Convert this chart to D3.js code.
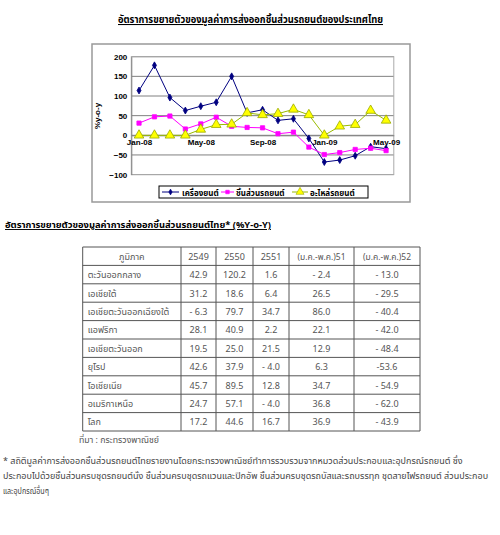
<!DOCTYPE html>
<html>
<head>
<meta charset="utf-8">
<script src="https://cdn.jsdelivr.net/npm/d3@7"></script>
<style>
  body { margin: 0; background: #fff; }
  svg { display: block; }
  .th { font-family: Tahoma, "Noto Sans Thai", "Noto Sans", "DejaVu Sans", sans-serif; }
  .ax { font-family: Arial, "Liberation Sans", sans-serif; }
</style>
</head>
<body>
<svg id="chart" width="500" height="535"></svg>
<script>
// ---------- data ----------
const months = ["Jan-08","Feb-08","Mar-08","Apr-08","May-08","Jun-08","Jul-08","Aug-08","Sep-08","Oct-08","Nov-08","Dec-08","Jan-09","Feb-09","Mar-09","Apr-09","May-09"];
const monthTicks = ["Jan-08","May-08","Sep-08","Jan-09","May-09"];
const engine = [114,178,96,63,74,84,150,57,65,38,42,-8,-68,-63,-52,-29,-34];
const parts  = [31,47,49,16,29,46,23,20,19,4,8,-30,-49,-44,-36,-33,-39];
const spares = [0,0,0,0,15,27,28,57,52,55,66,52,0,23,27,63,38];
const seriesNames = ["เครื่องยนต์","ชิ้นส่วนรถยนต์","อะไหล่รถยนต์"];
const yTicks = [-100,-50,0,50,100,150,200];

const tableHeader = ["ภูมิภาค","2549","2550","2551","(ม.ค.-พ.ค.)51","(ม.ค.-พ.ค.)52"];
const regions = ["ตะวันออกกลาง","เอเชียใต้","เอเชียตะวันออกเฉียงใต้","แอฟริกา","เอเชียตะวันออก","ยุโรป","โอเชียเนีย","อเมริกาเหนือ","โลก"];
const col2549 = ["42.9","31.2","- 6.3","28.1","19.5","42.6","45.7","24.7","17.2"];
const col2550 = ["120.2","18.6","79.7","40.9","25.0","37.9","89.5","57.1","44.6"];
const col2551 = ["1.6","6.4","34.7","2.2","21.5","- 4.0","12.8","- 4.0","16.7"];
const colJan51 = ["- 2.4","26.5","86.0","22.1","12.9","6.3","34.7","36.8","36.9"];
const colJan52 = ["- 13.0","- 29.5","- 40.4","- 42.0","- 48.4","-53.6","- 54.9","- 62.0","- 43.9"];

const title1 = "อัตราการขยายตัวของมูลค่าการส่งออกชิ้นส่วนรถยนต์ของประเทศไทย";
const title2 = "อัตราการขยายตัวของมูลค่าการส่งออกชิ้นส่วนรถยนต์ไทย* (%Y-o-Y)";
const sourceText = "ที่มา : กระทรวงพาณิชย์";
const footLines = [
  "* สถิติมูลค่าการส่งออกชิ้นส่วนรถยนต์ไทยรายงานโดยกระทรวงพาณิชย์ทำการรวบรวมจากหมวดส่วนประกอบและอุปกรณ์รถยนต์ ซึ่ง",
  "ประกอบไปด้วยชิ้นส่วนครบชุดรถยนต์นั่ง ชิ้นส่วนครบชุดรถแวนและปิกอัพ ชิ้นส่วนครบชุดรถบัสและรถบรรทุก ชุดสายไฟรถยนต์ ส่วนประกอบ",
  "และอุปกรณ์อื่นๆ"
];

// ---------- drawing ----------
const svg = d3.select("#chart");

// fit a text element to a maximum width by shrinking glyphs horizontally
function fit(sel, w) {
  const node = sel.node();
  const len = node.getComputedTextLength();
  if (len > w) sel.attr("textLength", w).attr("lengthAdjust", "spacingAndGlyphs");
  return sel;
}

// Title 1
fit(svg.append("text").attr("class","th").attr("x",118).attr("y",23)
  .attr("font-size",10.5).attr("font-weight","bold")
  .attr("text-decoration","underline").text(title1), 265);

// Chart frame
svg.append("rect").attr("x",92).attr("y",44).attr("width",318).attr("height",158)
  .attr("fill","#fff").attr("stroke","#999").attr("stroke-width",1.5);

const x = d3.scalePoint().domain(months).range([131.3,393.8]).padding(0.5);
const y = d3.scaleLinear().domain([-100,200]).range([174.6,56.7]);
const left = 131.3, right = 393.8;

// gridlines
svg.append("g").selectAll("line").data(yTicks).join("line")
  .attr("x1",left).attr("x2",right).attr("y1",d=>y(d)).attr("y2",d=>y(d))
  .attr("stroke","#808080").attr("stroke-width",1);
// plot border
svg.append("rect").attr("x",left).attr("y",y(200)).attr("width",right-left).attr("height",y(-100)-y(200))
  .attr("fill","none").attr("stroke","#aaa").attr("stroke-width",1);

// y axis
const yAxis = d3.axisLeft(y).tickValues(yTicks).tickSize(0).tickPadding(4);
const gy = svg.append("g").attr("transform",`translate(${left},0)`).call(yAxis);
gy.select(".domain").attr("stroke","#808080");
gy.selectAll("text").attr("class","ax").attr("font-size",8).attr("font-weight","bold").attr("fill","#000");

// x axis at zero
const xAxis = d3.axisBottom(x).tickValues(monthTicks).tickSize(0).tickPadding(4);
const gx = svg.append("g").attr("transform",`translate(0,${y(0)})`).call(xAxis);
gx.select(".domain").attr("stroke","#808080");
gx.selectAll("text").attr("class","ax").attr("font-size",8).attr("font-weight","bold").attr("fill","#000");

// y label
svg.append("text").attr("class","ax").attr("transform","translate(100,116) rotate(-90)")
  .attr("text-anchor","middle").attr("font-size",8).attr("font-weight","bold").text("%y-o-y");

const series = [
  {name: seriesNames[0], values: engine, line: "#000080", fill: "#000080", marker: "diamond", size: 14},
  {name: seriesNames[1], values: parts, line: "#FF00FF", fill: "#FF00FF", marker: "square", size: 18},
  {name: seriesNames[2], values: spares, line: "#99BB00", fill: "#FFFF00", marker: "triangle", size: 40},
];
const symType = {diamond: d3.symbolDiamond, square: d3.symbolSquare, triangle: d3.symbolTriangle};
const line = d3.line().x((d,i)=>x(months[i])).y(d=>y(d));

series.forEach(s => {
  svg.append("path").datum(s.values).attr("d",line).attr("fill","none")
    .attr("stroke",s.line).attr("stroke-width",1);
});
series.forEach(s => {
  svg.append("g").selectAll("path").data(s.values).join("path")
    .attr("transform",(d,i)=>`translate(${x(months[i])},${y(d)})`)
    .attr("d",d3.symbol().type(symType[s.marker]).size(s.size))
    .attr("fill",s.fill).attr("stroke",s.marker==="triangle" ? "#99AA00" : s.fill).attr("stroke-width",0.8);
});

// legend
svg.append("rect").attr("x",159).attr("y",186).attr("width",209).attr("height",12)
  .attr("fill","#fff").attr("stroke","#000").attr("stroke-width",1);
const legX = [[162,179,182,37],[221,234,236,53],[292,308,310,54]];
series.forEach((s,k) => {
  const [a,b,t,w] = legX[k];
  svg.append("line").attr("x1",a).attr("x2",b).attr("y1",192).attr("y2",192).attr("stroke",s.line);
  svg.append("path").attr("transform",`translate(${(a+b)/2},192)`)
    .attr("d",d3.symbol().type(symType[s.marker]).size(s.size*0.7))
    .attr("fill",s.fill).attr("stroke",s.marker==="triangle" ? "#99AA00" : s.fill).attr("stroke-width",0.6);
  fit(svg.append("text").attr("class","th").attr("x",t).attr("y",195.5).attr("font-size",8).attr("font-weight","bold")
    .text(s.name), w);
});

// Title 2
fit(svg.append("text").attr("class","th").attr("x",5).attr("y",228)
  .attr("font-size",9.5).attr("font-weight","bold")
  .attr("text-decoration","underline").text(title2), 266);

// ---------- table ----------
const colEdges = [82.7,181,216,253,289,354,420];
const rowTop = 247, rowH = 18.4;
const columns = [regions,col2549,col2550,col2551,colJan51,colJan52];
const nRows = regions.length + 1;
const tbl = svg.append("g").attr("class","th");
tbl.selectAll("line.h").data(d3.range(nRows+1)).join("line").attr("class","h")
  .attr("x1",colEdges[0]).attr("x2",colEdges[colEdges.length-1])
  .attr("y1",d=>rowTop+d*rowH).attr("y2",d=>rowTop+d*rowH)
  .attr("stroke","#555").attr("stroke-width",1);
tbl.selectAll("line.v").data(colEdges).join("line").attr("class","v")
  .attr("x1",d=>d).attr("x2",d=>d).attr("y1",rowTop).attr("y2",rowTop+nRows*rowH)
  .attr("stroke","#555").attr("stroke-width",1);
tableHeader.forEach((h,c) => {
  fit(tbl.append("text").attr("x",(colEdges[c]+colEdges[c+1])/2).attr("y",rowTop+rowH/2+3.5)
    .attr("text-anchor","middle").attr("font-size",9).attr("fill","#555").text(h), c>=4 ? 48 : 60);
});
columns.forEach((col,c) => {
  col.forEach((v,r) => {
    const isFirst = c===0;
    const t = tbl.append("text")
      .attr("x", isFirst ? colEdges[0]+5 : (colEdges[c]+colEdges[c+1])/2)
      .attr("y", rowTop+(r+1)*rowH+rowH/2+3.5)
      .attr("text-anchor", isFirst ? "start" : "middle")
      .attr("font-size",9).attr("fill","#555").text(v);
    if (isFirst) fit(t, 86);
  });
});

// source
fit(svg.append("text").attr("class","th").attr("x",79).attr("y",443).attr("font-size",9).attr("fill","#555").text(sourceText), 80);

// footnote
const footW = [490, 488, 46];
svg.append("g").attr("class","th").selectAll("text").data(footLines).join("text")
  .attr("x",3).attr("y",(d,i)=>464+i*15).attr("font-size",9).attr("fill","#444").text(d=>d)
  .each(function(d,i){ fit(d3.select(this), footW[i]); });
</script>
</body>
</html>
